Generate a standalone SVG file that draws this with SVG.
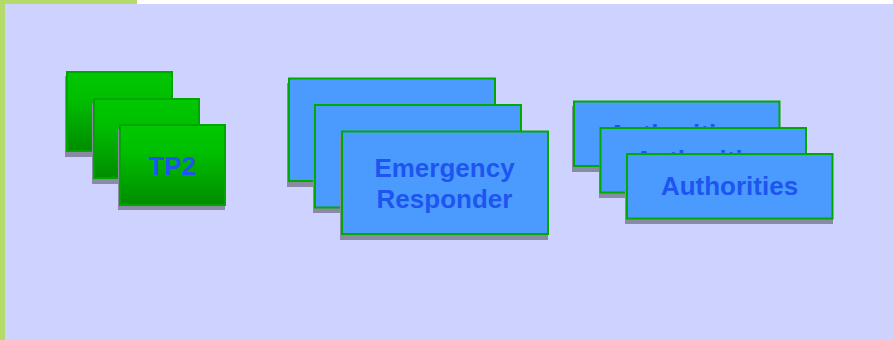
<svg xmlns="http://www.w3.org/2000/svg" width="893" height="340" viewBox="0 0 893 340">
<defs>
<linearGradient id="gg" x1="0" y1="0" x2="0" y2="1">
<stop offset="0" stop-color="#00C800"/>
<stop offset="0.35" stop-color="#00BE00"/>
<stop offset="1" stop-color="#008C00"/>
</linearGradient>
</defs>
<style>
.sh{fill:#8A8AA6;}
.g{fill:url(#gg);stroke:#00A500;stroke-width:2;}
.b{fill:#4B9BFF;stroke:#00AA00;stroke-width:2;}
.t{font-family:"Liberation Sans",Arial,sans-serif;font-weight:bold;font-size:26px;fill:#1E55F0;text-anchor:middle;}
</style>
<rect x="0" y="0" width="893" height="340" fill="#FFFFFF"/>
<rect x="0" y="0" width="137" height="4" fill="#B4DA6C"/>
<rect x="0" y="0" width="5" height="340" fill="#B4DA6C"/>
<rect x="5" y="4" width="888" height="336" fill="#CED2FF"/>
<g id="tp2">
<rect class="sh" x="65" y="76" width="107" height="81"/>
<rect class="g" x="67" y="72" width="105" height="79"/>
<rect class="sh" x="92" y="103" width="107" height="81"/>
<rect class="g" x="94" y="99" width="105" height="79"/>
<rect class="sh" x="118" y="129" width="107" height="81"/>
<rect class="g" x="120" y="125" width="105" height="80"/>
<text class="t" x="172" y="175">TP2</text>
</g>
<g id="emergency-responder">
<rect class="sh" x="287" y="83" width="208" height="104"/>
<rect class="b" x="289" y="78.5" width="206" height="102.5"/>
<rect class="sh" x="313" y="109" width="208" height="104"/>
<rect class="b" x="315" y="105" width="206" height="102.5"/>
<rect class="sh" x="340" y="136" width="208" height="104"/>
<rect class="b" x="342" y="131.5" width="206" height="102.5"/>
<text class="t" x="444.5" y="177">Emergency</text>
<text class="t" x="444.5" y="208">Responder</text>
</g>
<g id="authorities">
<rect class="sh" x="572" y="106" width="208" height="66"/>
<rect class="b" x="574" y="101.5" width="205.5" height="64.5"/>
<text class="t" x="676.5" y="142.5">Authorities</text>
<rect class="sh" x="599" y="132" width="208" height="66"/>
<rect class="b" x="600.5" y="128" width="205.5" height="64.5"/>
<text class="t" x="703" y="169">Authorities</text>
<rect class="sh" x="625" y="158" width="208" height="66"/>
<rect class="b" x="627" y="154" width="205.5" height="64.5"/>
<text class="t" x="729.5" y="195">Authorities</text>
</g>
<g id="connectors"/>
</svg>
